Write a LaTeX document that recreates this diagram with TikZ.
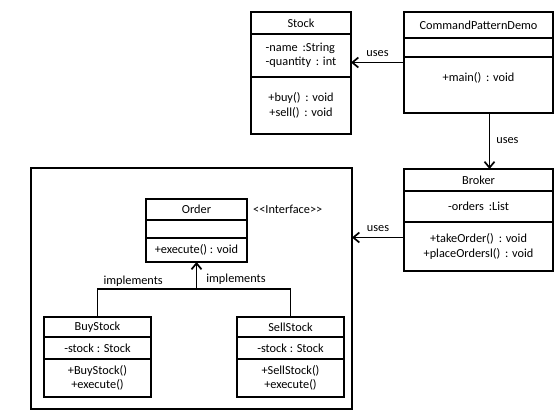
\documentclass[tikz,border=0pt]{standalone}
\usepackage{fontspec}
\setmainfont{Carlito}
\usetikzlibrary{arrows.meta, positioning}
\newcommand{\umlfont}{\fontsize{12.3}{14.5}\selectfont}

\begin{document}
\begin{tikzpicture}[
      x=1pt, y=-1pt,
      part/.style     = {draw, line width=1.7pt, outer sep=0pt, inner sep=2pt,
                         minimum width=#1, align=center, font=\umlfont,
                         anchor=north west},
      pkg/.style      = {draw, line width=1.7pt, outer sep=0pt, anchor=north west,
                         minimum width=321pt, minimum height=241pt},
      lbl/.style      = {font=\umlfont, inner sep=1pt},
      arrow/.style    = {-{Straight Barb[length=6pt,width=10pt]}, line width=1.7pt},
      line/.style     = {line width=1.7pt}
    ]
    \useasboundingbox (0,0) rectangle (560,420);

    % Nodes
    \node[part=100pt, minimum height=22pt] (stockT) at (251,12) {Stock};
    \node[part=100pt, minimum height=43pt, below=0pt of stockT, align=left] (stockA) {-name\, :String\\-quantity\, : int};
    \node[part=100pt, minimum height=57pt, below=0pt of stockA] (stockM) {+buy()\, : void\\+sell()\, : void};

    \node[part=149pt, minimum height=26pt] (demoT) at (404,12) {CommandPatternDemo};
    \node[part=149pt, minimum height=19pt, below=0pt of demoT] (demoA) {};
    \node[part=149pt, minimum height=56pt, below=0pt of demoA, text depth=15pt] (demoM) {+main()\, : void};

    \node[part=149pt, minimum height=22pt] (brokerT) at (404,169) {Broker};
    \node[part=149pt, minimum height=31pt, below=0pt of brokerT] (brokerA) {-orders\, :List};
    \node[part=149pt, minimum height=49pt, below=0pt of brokerA] (brokerM) {+takeOrder()\, : void\\+placeOrdersl()\, : void};

    \node[pkg] (cmds) at (31,168) {};

    \node[part=101pt, minimum height=21pt] (orderT) at (146,199) {Order};
    \node[part=101pt, minimum height=18pt, below=0pt of orderT] (orderA) {};
    \node[part=101pt, minimum height=24pt, below=0pt of orderA] (orderM) {+execute() : void};
    \node[lbl, right=5pt of orderT] (iface) {<\kern0pt<Interface>\kern0pt>};

    \node[part=107pt, minimum height=20pt] (buyT) at (44,317) {BuyStock};
    \node[part=107pt, minimum height=22pt, below=0pt of buyT] (buyA) {-stock : Stock};
    \node[part=107pt, minimum height=38pt, below=0pt of buyA] (buyM) {+BuyStock()\\+execute()};

    \node[part=107pt, minimum height=20pt] (sellT) at (237,317) {SellStock};
    \node[part=107pt, minimum height=22pt, below=0pt of sellT] (sellA) {-stock : Stock};
    \node[part=107pt, minimum height=38pt, below=0pt of sellA] (sellM) {+SellStock()\\+execute()};

    \coordinate (fork) at ([yshift=28pt]buyT.north -| orderM.south);

    % Relationships
    \draw[arrow] ([yshift=-7pt]stockA.east -| demoM.west) -- ([yshift=-7pt]stockA.east)
        node[lbl, midway, above=4pt] {uses};
    \draw[arrow] ([xshift=11pt]demoM.south) -- ([xshift=11pt]brokerT.north)
        node[lbl, midway, right=5pt] {uses};
    \draw[arrow] ([yshift=9pt]brokerM.west) -- ([yshift=9pt]brokerM.west -| cmds.east)
        node[lbl, midway, above=4pt] {uses};
    \draw[line] (buyT.north) |- (fork) node[lbl, pos=0.68, above=1pt] {implements}
        -| (sellT.north);
    \draw[arrow] (fork) -- (orderM.south)
        node[lbl, pos=0.37, right=8pt] {implements};

  \end{tikzpicture}
\end{document}
